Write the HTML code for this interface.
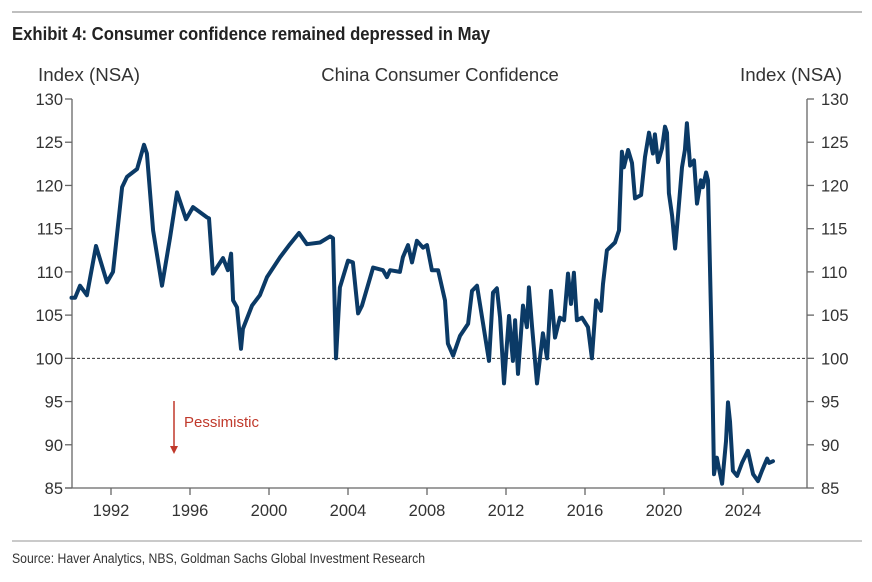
<!DOCTYPE html>
<html><head><meta charset="utf-8"><style>
body{margin:0;background:#fff;width:872px;height:577px;overflow:hidden;font-family:"Liberation Sans",Arial,sans-serif}
.narrow{font-family:"Liberation Sans Narrow","Liberation Sans",sans-serif}
</style></head><body>
<svg id="chart" width="872" height="577" xmlns="http://www.w3.org/2000/svg">
<line x1="12" y1="12" x2="862" y2="12" stroke="#aaa" stroke-width="1.5"/>
<text x="12" y="40" font-size="18" font-weight="bold" fill="#222" class="narrow" textLength="478" lengthAdjust="spacingAndGlyphs">Exhibit 4: Consumer confidence remained depressed in May</text>
<text x="38" y="81" font-size="18.5" fill="#333" textLength="102" lengthAdjust="spacingAndGlyphs">Index (NSA)</text>
<text x="440" y="81" font-size="18.5" fill="#333" text-anchor="middle">China Consumer Confidence</text>
<text x="740" y="81" font-size="18.5" fill="#333" textLength="102" lengthAdjust="spacingAndGlyphs">Index (NSA)</text>
<g id="axes"></g>
<g id="plot"></g>
<line x1="174" y1="401" x2="174" y2="446" stroke="#c0392b" stroke-width="1.5"/>
<polygon points="170,446 178,446 174,454" fill="#c0392b"/>
<text x="184" y="427" font-size="15" fill="#c0392b">Pessimistic</text>
<line x1="12" y1="541" x2="862" y2="541" stroke="#aaa" stroke-width="1.2"/>
<text x="12" y="563" font-size="13.5" fill="#333" class="narrow" textLength="413" lengthAdjust="spacingAndGlyphs">Source: Haver Analytics, NBS, Goldman Sachs Global Investment Research</text>
</svg>
<script>
const years=[1990.0,1990.18,1990.43,1990.78,1991.24,1991.80,1992.10,1992.56,1992.81,1993.32,1993.67,1993.82,1994.13,1994.58,1994.99,1995.34,1995.80,1996.15,1996.86,1996.96,1997.16,1997.67,1997.92,1998.08,1998.18,1998.38,1998.58,1998.68,1999.14,1999.54,1999.90,2000.56,2001.06,2001.52,2001.92,2002.58,2003.09,2003.24,2003.39,2003.59,2004.0,2004.25,2004.51,2004.71,2005.27,2005.77,2005.97,2006.13,2006.63,2006.78,2007.04,2007.24,2007.49,2007.80,2008.0,2008.25,2008.56,2008.91,2009.06,2009.32,2009.67,2010.08,2010.28,2010.53,2010.84,2011.14,2011.34,2011.54,2011.70,2011.90,2012.15,2012.35,2012.46,2012.61,2012.86,2013.06,2013.16,2013.32,2013.57,2013.87,2014.08,2014.28,2014.48,2014.73,2014.94,2015.14,2015.29,2015.44,2015.59,2015.85,2016.15,2016.35,2016.56,2016.81,2016.91,2017.11,2017.52,2017.72,2017.87,2017.97,2018.18,2018.38,2018.53,2018.84,2019.04,2019.24,2019.44,2019.54,2019.70,2019.90,2020.05,2020.15,2020.25,2020.41,2020.56,2020.71,2020.91,2021.06,2021.16,2021.32,2021.52,2021.67,2021.87,2021.97,2022.13,2022.23,2022.43,2022.53,2022.68,2022.78,2022.94,2023.14,2023.24,2023.34,2023.49,2023.70,2023.95,2024.25,2024.51,2024.76,2024.96,2025.22,2025.32,2025.52];
const values=[107.0,107.0,108.4,107.3,113.0,108.8,110.0,119.8,121.0,121.9,124.7,123.7,114.8,108.4,114.0,119.2,116.1,117.5,116.3,116.2,109.8,111.6,110.2,112.1,106.7,105.9,101.1,103.4,106.1,107.3,109.4,111.7,113.2,114.5,113.2,113.4,114.1,113.9,100.0,108.2,111.3,111.1,105.2,106.1,110.5,110.2,109.4,110.2,110.0,111.7,113.1,111.1,113.6,112.8,113.1,110.2,110.2,106.7,101.7,100.3,102.6,104.0,107.8,108.4,104.0,99.7,107.6,108.1,104.7,97.1,104.9,99.7,104.4,98.2,106.1,103.6,108.2,103.6,97.1,102.9,100.0,107.8,102.4,104.7,104.4,109.8,106.3,109.9,104.4,104.7,103.6,100.0,106.7,105.5,108.6,112.5,113.4,114.8,123.9,122.1,124.1,122.6,118.5,118.9,123.3,126.1,123.7,125.9,122.7,124.3,126.8,126.1,119.1,116.5,112.7,116.5,122.1,124.1,127.2,122.3,122.9,117.9,120.6,119.8,121.5,120.6,100.1,86.6,88.5,87.3,85.5,90.4,94.9,92.7,87.0,86.4,87.9,89.3,86.6,85.8,87.0,88.4,87.9,88.1];
const yTicks=[85,90,95,100,105,110,115,120,125,130];
const xTicks=[1992,1996,2000,2004,2008,2012,2016,2020,2024];
const NS='http://www.w3.org/2000/svg';
const L=72,R=807,T=99,B=488;
function X(yr){return 111+(yr-1992)*19.75;}
function Y(v){return B-(v-85)*(B-T)/45;}
function mk(tag,attrs,parent){const e=document.createElementNS(NS,tag);for(const k in attrs)e.setAttribute(k,attrs[k]);parent.appendChild(e);return e;}
const ax=document.getElementById('axes'),pl=document.getElementById('plot');
let e;
e=mk('line',{x1:L,y1:T,x2:L,y2:B,stroke:'#666','stroke-width':1.3},ax);


e=mk('line',{x1:R,y1:T,x2:R,y2:B,stroke:'#666','stroke-width':1.3},ax);


e=mk('line',{x1:L-7,y1:B,x2:R,y2:B,stroke:'#666','stroke-width':1.3},ax);


yTicks.forEach(v=>{
  const y=Y(v);
  e=mk('line',{x1:L-7,y1:y,x2:L,y2:y,stroke:'#666','stroke-width':1.3},ax);
  
  
  e=mk('line',{x1:R,y1:y,x2:R+7,y2:y,stroke:'#666','stroke-width':1.3},ax);
  
  
  e=mk('text',{x:L-9,y:y+6,'font-size':16.5,fill:'#333','text-anchor':'end'},ax);e.textContent=v;
  
  
  e=mk('text',{x:R+14,y:y+6,'font-size':16.5,fill:'#333'},ax);e.textContent=v;
  
  
});
xTicks.forEach(t=>{
  const x=X(t);
  e=mk('line',{x1:x,y1:B,x2:x,y2:B+7,stroke:'#666','stroke-width':1.3},ax);
  
  
  e=mk('text',{x:x,y:B+28,'font-size':16.5,fill:'#333','text-anchor':'middle'},ax);e.textContent=t;
  
  
});
e=mk('line',{x1:L,y1:Y(100),x2:R,y2:Y(100),stroke:'#333','stroke-width':1,'stroke-dasharray':'3,2'},pl);


const d=years.map((yr,i)=>(i?'L':'M')+X(yr).toFixed(1)+','+Y(values[i]).toFixed(1)).join('');
e=mk('path',{d:d,fill:'none',stroke:'#0b3a66','stroke-width':4,'stroke-linejoin':'round','stroke-linecap':'round'},pl);


</script>
</body></html>
